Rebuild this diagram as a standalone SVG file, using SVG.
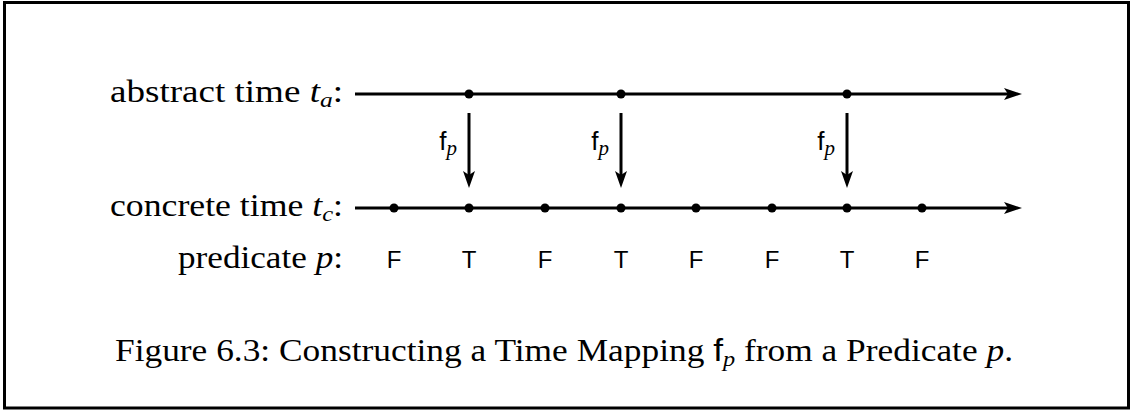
<svg xmlns="http://www.w3.org/2000/svg" width="1130" height="410" viewBox="0 0 1130 410">
<style>
.lbl{font-family:"Liberation Serif","DejaVu Serif",serif;font-size:32px;fill:#000}
.it{font-style:italic}
.tf{font-family:"Liberation Sans","DejaVu Sans",sans-serif;font-size:24px;fill:#000;text-anchor:middle}
.fp{font-family:"Liberation Sans","DejaVu Sans",sans-serif;font-size:26px;fill:#000;text-anchor:end}
.sub{font-family:"Liberation Serif",serif;font-style:italic;font-size:21px}
.axis{stroke:#000;stroke-width:3;fill:none}
.dot{fill:#000}
</style>
<defs>
<path id="hh" d="M0,0 L-18,-6 L-14,0 L-18,6 Z"/>
<path id="vh" d="M0,0 L-6,-17 L0,-13 L6,-17 Z"/>
</defs>
<rect x="4.5" y="2.5" width="1124" height="405.5" fill="#fff" stroke="#000" stroke-width="3"/>
<g id="labels">
<text class="lbl" x="343" y="102" text-anchor="end" textLength="233" lengthAdjust="spacingAndGlyphs">abstract time <tspan class="it">t</tspan><tspan class="it" font-size="22" dy="5">a</tspan><tspan dy="-5">:</tspan></text>
<text class="lbl" x="343" y="216" text-anchor="end" textLength="233" lengthAdjust="spacingAndGlyphs">concrete time <tspan class="it">t</tspan><tspan class="it" font-size="22" dy="5">c</tspan><tspan dy="-5">:</tspan></text>
<text class="lbl" x="343" y="268" text-anchor="end" textLength="165" lengthAdjust="spacingAndGlyphs">predicate <tspan class="it">p</tspan>:</text>
</g>
<g id="connectors">
<line class="axis" x1="355" y1="94" x2="1010" y2="94"/>
<use href="#hh" x="1022" y="94"/>
<line class="axis" x1="355" y1="208" x2="1010" y2="208"/>
<use href="#hh" x="1022" y="208"/>
<line class="axis" x1="469" y1="113" x2="469" y2="178"/>
<use href="#vh" x="469" y="188"/>
<line class="axis" x1="621" y1="113" x2="621" y2="178"/>
<use href="#vh" x="621" y="188"/>
<line class="axis" x1="847" y1="113" x2="847" y2="178"/>
<use href="#vh" x="847" y="188"/>
</g>
<g id="abstract-points">
<circle class="dot" cx="469" cy="94" r="4.5"/>
<circle class="dot" cx="621" cy="94" r="4.5"/>
<circle class="dot" cx="847" cy="94" r="4.5"/>
</g>
<g id="concrete-points">
<circle class="dot" cx="394" cy="208" r="4.5"/>
<circle class="dot" cx="469" cy="208" r="4.5"/>
<circle class="dot" cx="545" cy="208" r="4.5"/>
<circle class="dot" cx="621" cy="208" r="4.5"/>
<circle class="dot" cx="696" cy="208" r="4.5"/>
<circle class="dot" cx="772" cy="208" r="4.5"/>
<circle class="dot" cx="847" cy="208" r="4.5"/>
<circle class="dot" cx="922" cy="208" r="4.5"/>
</g>
<g id="mapping-labels">
<text class="fp" x="457" y="150">f<tspan class="sub" dy="5">p</tspan></text>
<text class="fp" x="609" y="150">f<tspan class="sub" dy="5">p</tspan></text>
<text class="fp" x="835" y="150">f<tspan class="sub" dy="5">p</tspan></text>
</g>
<g id="predicate-values">
<text class="tf" x="394" y="268">F</text>
<text class="tf" x="469" y="268">T</text>
<text class="tf" x="545" y="268">F</text>
<text class="tf" x="621" y="268">T</text>
<text class="tf" x="696" y="268">F</text>
<text class="tf" x="772" y="268">F</text>
<text class="tf" x="847" y="268">T</text>
<text class="tf" x="922" y="268">F</text>
</g>
<g id="caption">
<text class="lbl" x="115" y="361" textLength="898" lengthAdjust="spacingAndGlyphs">Figure 6.3: Constructing a Time Mapping <tspan font-family="Liberation Sans, sans-serif">f</tspan><tspan class="it" font-size="22" dy="5">p</tspan><tspan dy="-5"> from a Predicate </tspan><tspan class="it">p</tspan>.</text>
</g>
</svg>
